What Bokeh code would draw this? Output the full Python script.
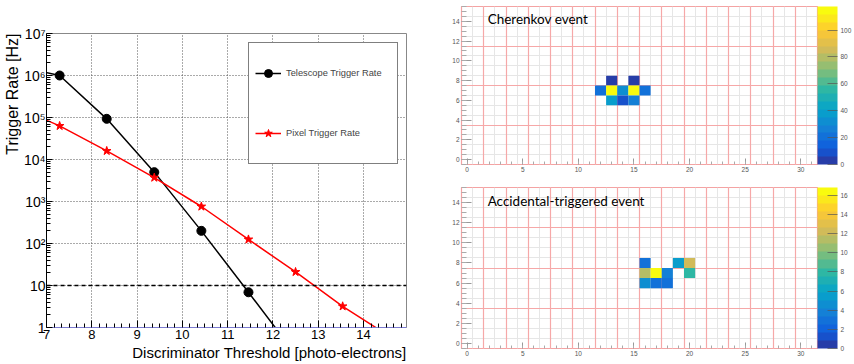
import math
from bokeh.plotting import figure
from bokeh.layouts import row, column
from bokeh.models import (ColumnDataSource, Span, Label, Legend, LegendItem, FixedTicker,
                          SingleIntervalTicker, CustomJSTickFormatter, Grid, ColorBar,
                          LinearColorMapper, Title)
from bokeh.embed import file_html
from bokeh.resources import INLINE

# ---------------- data: trigger rate vs threshold ----------------
thresholds = [6.25, 7.29, 8.33, 9.38, 10.42, 11.46, 12.50, 13.54, 14.58]
telescope_rate = [1.8e6, 1.0e6, 9.3e4, 5.0e3, 2.0e2, 6.9, 0.23]
pixel_rate = [1.95e5, 6.3e4, 1.6e4, 3.7e3, 7.6e2, 1.25e2, 21.0, 3.2, 0.61]
target_rate = 10
x_ticks = [7, 8, 9, 10, 11, 12, 13, 14]
y_ticks = [1, 10, 100, 1e3, 1e4, 1e5, 1e6, 1e7]
y_tick_labels = ["1", "10", "10\u00b2", "10\u00b3", "10\u2074", "10\u2075", "10\u2076", "10\u2077"]

# ---------------- data: camera images ----------------
cherenkov_col = [13, 15, 12, 13, 14, 15, 16, 13, 14, 15]
cherenkov_row = [8, 8, 7, 7, 7, 7, 7, 6, 6, 6]
cherenkov_pe = [3.0, 4.0, 20.0, 117.5, 30.0, 114.0, 20.0, 40.0, 8.0, 28.0]

accidental_col = [16, 19, 20, 16, 17, 18, 20, 16, 17, 18]
accidental_row = [8, 8, 8, 7, 7, 7, 7, 6, 6, 6]
accidental_pe = [3.0, 5.6, 12.2, 11.3, 16.8, 3.6, 8.0, 4.5, 2.9, 3.0]

# ROOT kBird palette (20 contour levels)
bird_stops = [0.0, 0.125, 0.25, 0.375, 0.5, 0.625, 0.75, 0.875, 1.0]
bird_r = [0.2082, 0.0592, 0.0780, 0.0232, 0.1802, 0.5301, 0.8186, 0.9956, 0.9764]
bird_g = [0.1664, 0.3599, 0.5041, 0.6419, 0.7178, 0.7492, 0.7328, 0.7862, 0.9832]
bird_b = [0.5293, 0.8684, 0.8385, 0.7914, 0.6425, 0.4662, 0.3499, 0.1968, 0.0539]


def bird(t):
    for k in range(len(bird_stops) - 1):
        if t <= bird_stops[k + 1]:
            f = (t - bird_stops[k]) / (bird_stops[k + 1] - bird_stops[k])
            c = [ch[k] + f * (ch[k + 1] - ch[k]) for ch in (bird_r, bird_g, bird_b)]
            return "#%02x%02x%02x" % tuple(int(round(255 * v)) for v in c)
    return "#f9fb0e"


bird20 = [bird(math.floor((i + 0.99) * 255 / 20) / 254) for i in range(20)]

FONT = "Liberation Sans"

# ---------------- left plot ----------------
p = figure(width=440, height=364, x_range=(7, 14.95), y_range=(1, 1e7), y_axis_type="log",
           output_backend="svg", toolbar_location=None,
           min_border_left=46, min_border_right=34, min_border_top=33, min_border_bottom=37)
p.outline_line_color = "#888888"
p.background_fill_color = "white"

p.xaxis.ticker = FixedTicker(ticks=x_ticks,
                             minor_ticks=[x + j / 6 for x in x_ticks for j in range(1, 6)])
p.yaxis.ticker = FixedTicker(ticks=y_ticks,
                             minor_ticks=[k * 10 ** d for d in range(7) for k in range(2, 10)])
p.yaxis.formatter = CustomJSTickFormatter(args=dict(labels=y_tick_labels), code="""
    const e = Math.round(Math.log10(tick));
    return labels[e] ?? "";
""")
for ax in (p.xaxis[0], p.yaxis[0]):
    ax.major_tick_out = 0
    ax.minor_tick_out = 0
    ax.major_label_text_font = FONT
    ax.major_label_text_color = "black"
    ax.major_tick_line_color = "black"
    ax.minor_tick_line_color = "black"
p.xaxis.major_tick_in = 7
p.xaxis.minor_tick_in = 4
p.yaxis.major_tick_in = 6
p.yaxis.minor_tick_in = 4
p.xaxis.major_label_text_font_size = "13px"
p.yaxis.major_label_text_font_size = "14px"
p.xaxis.major_label_standoff = 2
p.yaxis.major_label_standoff = 1
p.xaxis.axis_line_color = "#7b7bd0"
p.yaxis.axis_line_color = "black"

p.xgrid.ticker = FixedTicker(ticks=x_ticks)
p.ygrid.ticker = FixedTicker(ticks=y_ticks)
for g in (p.xgrid[0], p.ygrid[0]):
    g.grid_line_color = "#555555"
    g.grid_line_dash = "1 2"
    g.grid_line_width = 1

p.add_layout(Span(location=target_rate, dimension="width", line_color="black",
                  line_dash="4 3", line_width=1.3))

tel_src = ColumnDataSource(dict(x=thresholds[:len(telescope_rate)], y=telescope_rate))
pix_src = ColumnDataSource(dict(x=thresholds, y=pixel_rate))
r1l = p.line("x", "y", source=tel_src, line_color="black", line_width=1.5)
r1s = p.scatter("x", "y", source=tel_src, marker="circle", size=9, color="black")
r2l = p.line("x", "y", source=pix_src, line_color="red", line_width=1.5)
r2s = p.scatter("x", "y", source=pix_src, marker="star", size=9, color="red")

legend = Legend(items=[LegendItem(label="Telescope Trigger Rate", renderers=[r1l, r1s]),
                       LegendItem(label="Pixel Trigger Rate", renderers=[r2l, r2s])],
                location=(202, 163), margin=0, padding=6, spacing=12,
                glyph_width=26, glyph_height=20, label_standoff=5,
                label_width=105, label_height=48,
                label_text_font=FONT, label_text_font_size="9.3px",
                border_line_color="black", border_line_width=1,
                background_fill_color="white", background_fill_alpha=1)
p.add_layout(legend)

p.add_layout(Title(text="Discriminator Threshold [photo-electrons]", align="right",
                   text_font=FONT, text_font_size="15px", text_font_style="normal",
                   text_color="black", standoff=0, offset=0), "below")
p.add_layout(Title(text="Trigger Rate [Hz]", align="right",
                   text_font=FONT, text_font_size="16px", text_font_style="normal",
                   text_color="black", standoff=0, offset=0), "left")


# ---------------- camera images ----------------
def camera(cols, rows, vals, title, height, top, bottom, title_y, tick_step):
    zmax = max(vals)
    mapper = LinearColorMapper(palette=bird20, low=0, high=zmax)
    h = figure(width=414, height=height, x_range=(-0.5, 31.5), y_range=(-0.5, 15.5),
               output_backend="svg", toolbar_location=None,
               min_border_left=21, min_border_right=37, min_border_top=top,
               min_border_bottom=bottom)
    h.outline_line_color = "#f4a3a3"
    h.outline_line_width = 1.2
    # fine grid at every bin edge
    h.xgrid.ticker = FixedTicker(ticks=[i - 0.5 for i in range(33)])
    h.ygrid.ticker = FixedTicker(ticks=[i - 0.5 for i in range(17)])
    for g in (h.xgrid[0], h.ygrid[0]):
        g.grid_line_color = "#e6e6e6"
        g.grid_line_width = 1
    # coarse pink grid
    h.add_layout(Grid(dimension=0, ticker=FixedTicker(ticks=[1.5 + 2 * k for k in range(15)]),
                      grid_line_color="#f6a8a8", grid_line_width=1.2))
    h.add_layout(Grid(dimension=1, ticker=FixedTicker(ticks=[3.5, 7.5, 11.5]),
                      grid_line_color="#f6a8a8", grid_line_width=1.2))

    src = ColumnDataSource(dict(x=cols, y=rows, v=vals))
    h.rect("x", "y", width=1, height=1, source=src,
           fill_color={"field": "v", "transform": mapper}, line_color=None)

    h.xaxis.ticker = SingleIntervalTicker(interval=5, num_minor_ticks=5)
    h.yaxis.ticker = SingleIntervalTicker(interval=2, num_minor_ticks=4)
    for ax in (h.xaxis[0], h.yaxis[0]):
        ax.axis_line_color = None
        ax.major_tick_out = 0
        ax.minor_tick_out = 0
        ax.major_tick_line_color = "#999999"
        ax.minor_tick_line_color = "#aaaaaa"
        ax.major_label_text_font = FONT
        ax.major_label_text_font_size = "6.5px"
        ax.major_label_text_color = "#555555"
        ax.major_label_standoff = 2
    h.xaxis.major_tick_in = 6
    h.xaxis.minor_tick_in = 3
    h.yaxis.major_tick_in = 10
    h.yaxis.minor_tick_in = 5

    cb = ColorBar(color_mapper=mapper, ticker=SingleIntervalTicker(interval=tick_step, num_minor_ticks=0),
                  width=20, padding=0, margin=2, location="top_left",
                  label_standoff=3, major_label_text_font=FONT,
                  major_label_text_font_size="6.5px", major_label_text_color="#555555",
                  major_tick_in=10, major_tick_out=0, major_tick_line_color="#555555",
                  major_tick_line_alpha=0.7, minor_tick_line_color=None,
                  bar_line_color=None, border_line_color=None, background_fill_alpha=0)
    h.add_layout(cb, "right")

    h.add_layout(Label(x=1.85, y=title_y, text=title, text_align="left",
                       text_baseline="middle", text_font="Lato",
                       text_font_size="13.5px", text_color="black"))
    return h


h1 = camera(cherenkov_col, cherenkov_row, cherenkov_pe, "Cherenkov event",
            180, 6, 16, 14.28, 20)
h2 = camera(accidental_col, accidental_row, accidental_pe, "Accidental-triggered event",
            184, 7, 16, 14.11, 2)

layout = row(p, column(h1, h2, spacing=0), spacing=0)

with open("out.html", "w") as f:
    f.write(file_html(layout, INLINE))
